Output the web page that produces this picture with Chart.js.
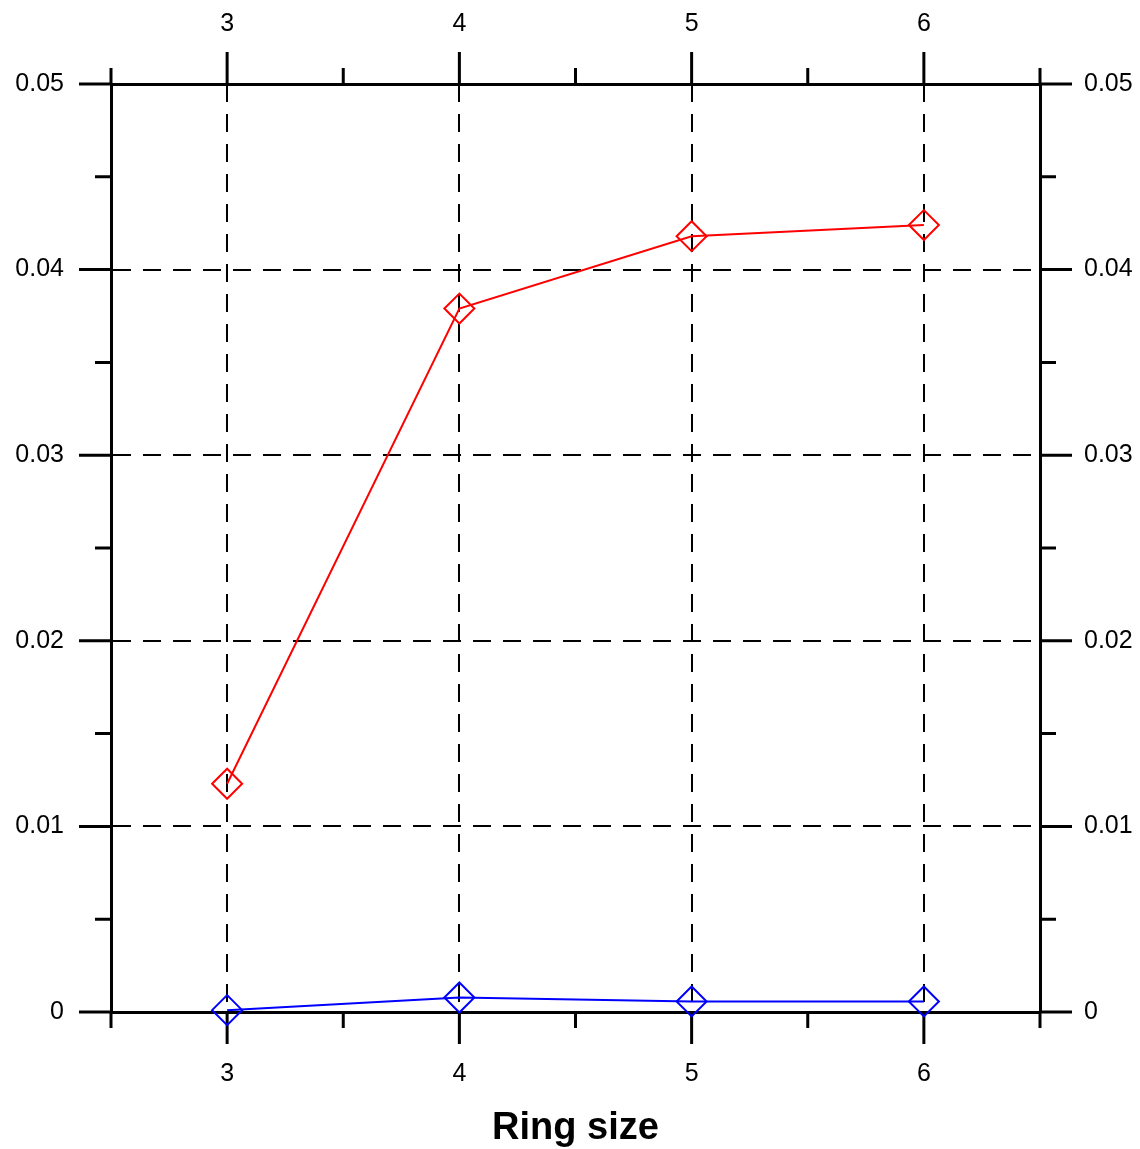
<!DOCTYPE html>
<html>
<head>
<meta charset="utf-8">
<script src="https://cdn.jsdelivr.net/npm/chart.js@4.4.1/dist/chart.umd.min.js"></script>
<style>
  html, body { margin: 0; padding: 0; background: #fff; }
  #wrap { width: 1140px; height: 1149px; }
</style>
</head>
<body>
<div id="wrap"><canvas id="chart" width="1140" height="1149"></canvas></div>
<script>
// Ring sizes on the x axis and the two measured series
const ringSizes = [3, 4, 5, 6];
const redValues = [0.0123, 0.0379, 0.0418, 0.0424];
const blueValues = [0.0001, 0.00078, 0.00057, 0.00057];

// Tick positions (major + minor) and the labels shown at the major ones
const xTickValues = [2.5, 3, 3.5, 4, 4.5, 5, 5.5, 6, 6.5];
const xTickLabels = ['3', '4', '5', '6'];
const yTickValues = [0, 0.005, 0.01, 0.015, 0.02, 0.025, 0.03, 0.035, 0.04, 0.045, 0.05];
const yMajorValues = [0, 0.01, 0.02, 0.03, 0.04, 0.05];
const yTickLabels = ['0', '0.01', '0.02', '0.03', '0.04', '0.05'];

const xTitle = 'Ring size';

Chart.defaults.font.family = "'Liberation Sans', Arial, Helvetica, sans-serif";
Chart.defaults.color = '#000';

const near = (a, b) => Math.abs(a - b) < 1e-9;
const isMajorX = v => ringSizes.some(r => near(r, v));
const isMajorY = v => yMajorValues.some(r => near(r, v));
const xLabel = v => { const i = ringSizes.findIndex(r => near(r, v)); return i < 0 ? '' : xTickLabels[i]; };
const yLabel = v => { const i = yMajorValues.findIndex(r => near(r, v)); return i < 0 ? '' : yTickLabels[i]; };

const tickFont = { size: 25 };
const dash = [18, 12];
const gridColorX = c => (c.tick && isMajorX(c.tick.value)) ? '#000' : 'rgba(0,0,0,0)';
const gridColorY = c => (c.tick && isMajorY(c.tick.value) && c.tick.value > 0 && c.tick.value < 0.05) ? '#000' : 'rgba(0,0,0,0)';

// Outward tick marks: long at major ticks, short at minor ticks, on all four sides
const tickMarks = {
  id: 'tickMarks',
  beforeDatasetsDraw(chart) {
    const { ctx, chartArea: a } = chart;
    const MAJOR = 32, MINOR = 16;
    ctx.save();
    ctx.strokeStyle = '#000';
    ctx.lineWidth = 3;
    ctx.lineCap = 'butt';
    ctx.beginPath();
    ['x', 'x2'].forEach(id => {
      const s = chart.scales[id];
      s.ticks.forEach(t => {
        const px = s.getPixelForValue(t.value);
        const len = isMajorX(t.value) ? MAJOR : MINOR;
        if (id === 'x') { ctx.moveTo(px, a.bottom); ctx.lineTo(px, a.bottom + len); }
        else { ctx.moveTo(px, a.top); ctx.lineTo(px, a.top - len); }
      });
    });
    ['y', 'y2'].forEach(id => {
      const s = chart.scales[id];
      s.ticks.forEach(t => {
        const py = s.getPixelForValue(t.value);
        const len = isMajorY(t.value) ? MAJOR : MINOR;
        if (id === 'y') { ctx.moveTo(a.left, py); ctx.lineTo(a.left - len, py); }
        else { ctx.moveTo(a.right, py); ctx.lineTo(a.right + len, py); }
      });
    });
    ctx.stroke();
    ctx.restore();
  }
};

const toPoints = vals => ringSizes.map((x, i) => ({ x, y: vals[i] }));

const seriesStyle = color => ({
  borderColor: color,
  borderWidth: 2,
  pointStyle: 'rectRot',
  pointRadius: 15,
  pointHoverRadius: 15,
  pointBorderWidth: 2,
  pointBorderColor: color,
  pointBackgroundColor: 'rgba(0,0,0,0)',
  tension: 0,
  fill: false,
  clip: false,
  xAxisID: 'x',
  yAxisID: 'y'
});

new Chart(document.getElementById('chart'), {
  type: 'line',
  data: {
    datasets: [
      Object.assign({ label: 'Series A', data: toPoints(redValues) }, seriesStyle('#ff0000')),
      Object.assign({ label: 'Series B', data: toPoints(blueValues) }, seriesStyle('#0000ff'))
    ]
  },
  options: {
    responsive: false,
    animation: false,
    events: [],
    layout: { padding: 0 },
    plugins: { legend: { display: false }, tooltip: { enabled: false }, title: { display: false } },
    scales: {
      x: {
        type: 'linear', position: 'bottom', min: 2.5, max: 6.5,
        afterBuildTicks: s => { s.ticks = xTickValues.map(v => ({ value: v })); },
        afterFit: s => { s.height = 137; },
        ticks: { autoSkip: false, maxRotation: 0, padding: 47, font: tickFont, callback: v => xLabel(v) },
        grid: { drawTicks: false, color: gridColorX, lineWidth: 2 },
        border: { display: true, color: '#000', width: 3, dash: dash },
        title: { display: true, text: xTitle, font: { size: 38, weight: 'bold' }, padding: { top: 0, bottom: -2 } }
      },
      x2: {
        type: 'linear', position: 'top', min: 2.5, max: 6.5,
        afterBuildTicks: s => { s.ticks = xTickValues.map(v => ({ value: v })); },
        afterFit: s => { s.height = 84; },
        ticks: { autoSkip: false, maxRotation: 0, padding: 45, font: tickFont, callback: v => xLabel(v) },
        grid: { drawTicks: false, drawOnChartArea: false },
        border: { display: true, color: '#000', width: 3 }
      },
      y: {
        type: 'linear', position: 'left', min: 0, max: 0.05,
        afterBuildTicks: s => { s.ticks = yTickValues.map(v => ({ value: v })); },
        afterFit: s => { s.width = 111; },
        ticks: { autoSkip: false, padding: 47, font: tickFont, callback: v => yLabel(v) },
        grid: { drawTicks: false, color: gridColorY, lineWidth: 2 },
        border: { display: true, color: '#000', width: 3, dash: dash }
      },
      y2: {
        type: 'linear', position: 'right', min: 0, max: 0.05,
        afterBuildTicks: s => { s.ticks = yTickValues.map(v => ({ value: v })); },
        afterFit: s => { s.width = 100; },
        ticks: { autoSkip: false, padding: 44, font: tickFont, callback: v => yLabel(v) },
        grid: { drawTicks: false, drawOnChartArea: false },
        border: { display: true, color: '#000', width: 3 }
      }
    }
  },
  plugins: [tickMarks]
});
</script>
</body>
</html>
